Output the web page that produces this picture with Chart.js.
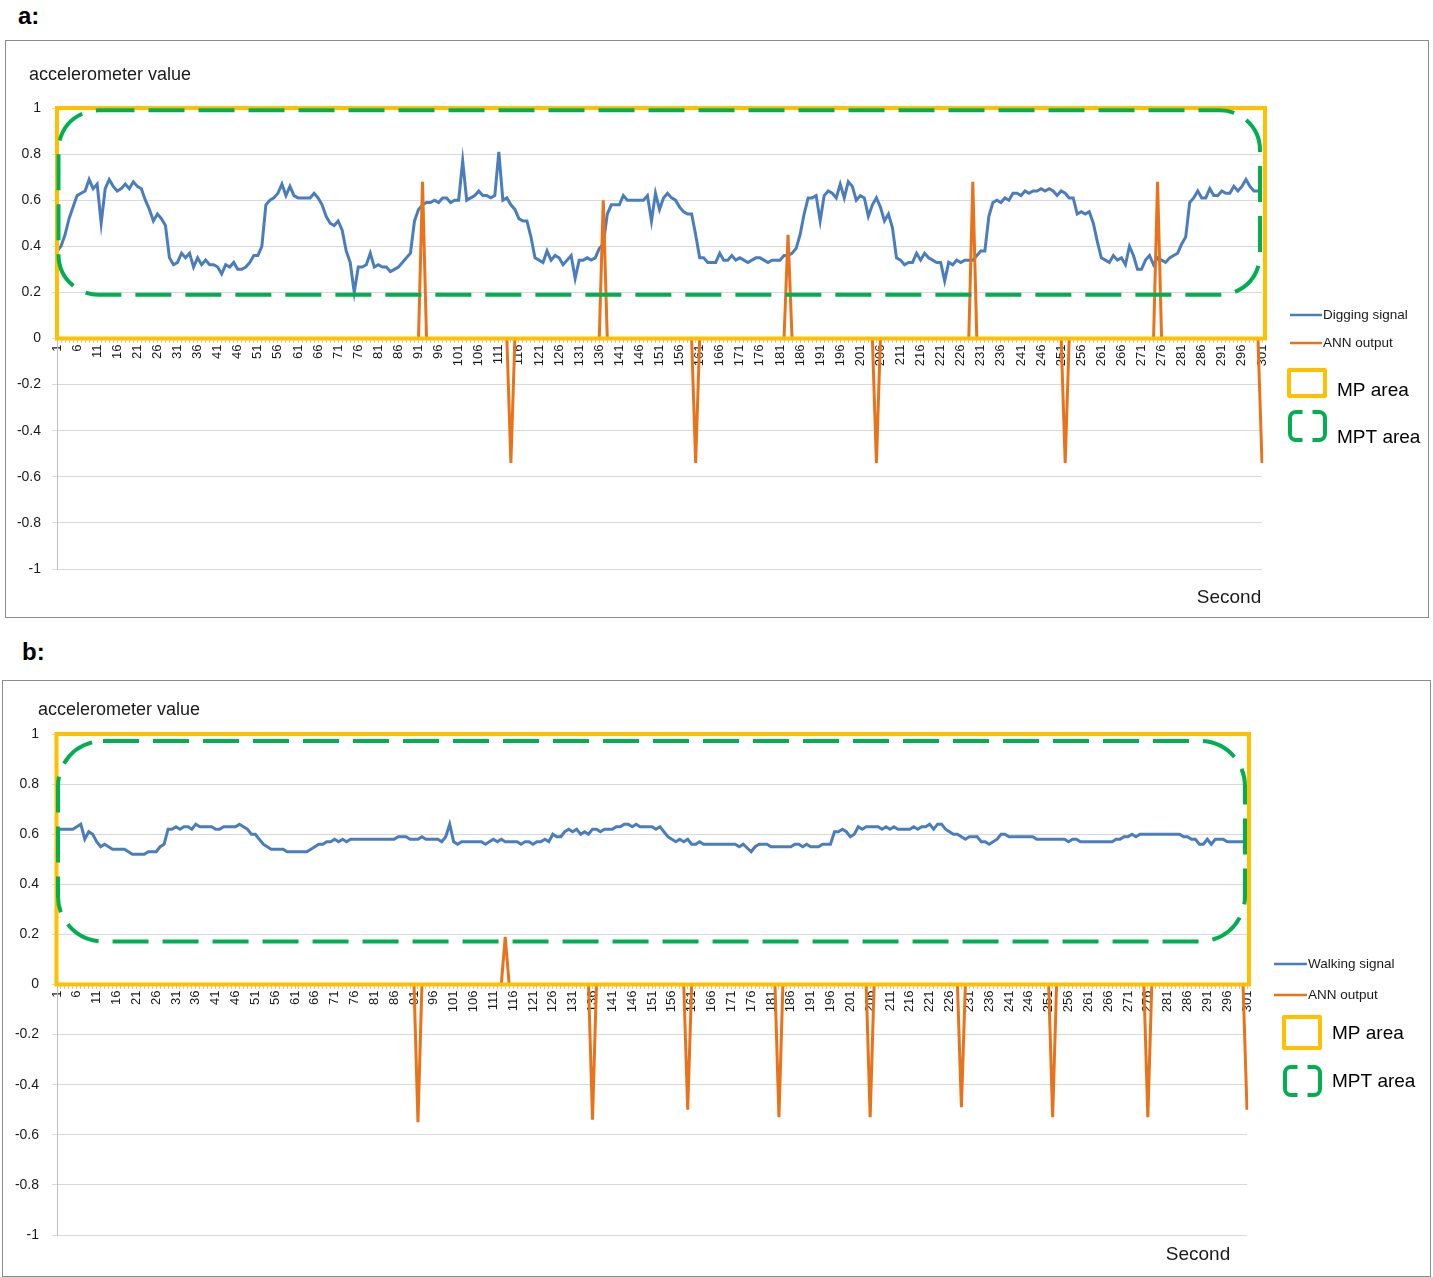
<!DOCTYPE html>
<html>
<head>
<meta charset="utf-8">
<script src="https://cdn.jsdelivr.net/npm/chart.js@4.4.0/dist/chart.umd.min.js"></script>
<style>
  body { margin: 0; background: #fff; font-family: 'Liberation Sans', Arial, sans-serif; }
  .tag { position: absolute; font-weight: bold; font-size: 24px; color: #000; }
  .panel { position: absolute; border: 1px solid #8c8c8c; box-sizing: border-box; background: #fff; }
  .inner { position: relative; width: 100%; height: 100%; }
</style>
</head>
<body>
<div class="tag" style="left:18px; top:2px;">a:</div>
<div class="panel" style="left:5px; top:40px; width:1424px; height:578px;">
  <div class="inner"><canvas id="chartA"></canvas></div>
</div>
<div class="tag" style="left:22px; top:638px;">b:</div>
<div class="panel" style="left:2px; top:680px; width:1429px; height:597px;">
  <div class="inner"><canvas id="chartB"></canvas></div>
</div>
<script>
// seconds 1..301 on the category axis
const seconds = Array.from({ length: 301 }, (_, i) => i + 1);

// a: digging signal
const diggingSignal = [
  0.38, 0.40, 0.45, 0.52, 0.57, 0.62, 0.63, 0.64, 0.69, 0.65,
  0.67, 0.50, 0.65, 0.69, 0.66, 0.64, 0.65, 0.67, 0.65, 0.68,
  0.66, 0.65, 0.60, 0.56, 0.51, 0.54, 0.52, 0.49, 0.35, 0.32,
  0.33, 0.37, 0.35, 0.37, 0.31, 0.35, 0.32, 0.34, 0.32, 0.32,
  0.31, 0.28, 0.32, 0.31, 0.33, 0.30, 0.30, 0.31, 0.33, 0.36,
  0.36, 0.40, 0.58, 0.60, 0.61, 0.63, 0.67, 0.62, 0.66, 0.62,
  0.61, 0.61, 0.61, 0.61, 0.63, 0.61, 0.58, 0.53, 0.50, 0.49,
  0.51, 0.47, 0.38, 0.33, 0.20, 0.31, 0.31, 0.32, 0.37, 0.31,
  0.32, 0.31, 0.31, 0.29, 0.30, 0.31, 0.33, 0.35, 0.37, 0.51,
  0.56, 0.58, 0.59, 0.59, 0.60, 0.59, 0.61, 0.61, 0.59, 0.60,
  0.60, 0.77, 0.60, 0.61, 0.62, 0.64, 0.62, 0.62, 0.61, 0.62,
  0.81, 0.60, 0.61, 0.58, 0.56, 0.52, 0.51, 0.51, 0.44, 0.35,
  0.34, 0.33, 0.38, 0.34, 0.36, 0.35, 0.32, 0.34, 0.36, 0.26,
  0.34, 0.34, 0.35, 0.34, 0.35, 0.39, 0.41, 0.54, 0.58, 0.58,
  0.58, 0.62, 0.60, 0.60, 0.60, 0.60, 0.60, 0.62, 0.51, 0.63,
  0.56, 0.61, 0.63, 0.61, 0.60, 0.57, 0.55, 0.54, 0.54, 0.45,
  0.35, 0.35, 0.33, 0.33, 0.33, 0.37, 0.34, 0.34, 0.36, 0.34,
  0.35, 0.34, 0.33, 0.34, 0.35, 0.35, 0.34, 0.33, 0.34, 0.34,
  0.34, 0.36, 0.36, 0.37, 0.39, 0.45, 0.54, 0.61, 0.61, 0.62,
  0.51, 0.62, 0.64, 0.63, 0.61, 0.67, 0.61, 0.68, 0.66, 0.60,
  0.62, 0.61, 0.53, 0.58, 0.61, 0.57, 0.51, 0.54, 0.48, 0.35,
  0.34, 0.32, 0.33, 0.33, 0.37, 0.34, 0.37, 0.35, 0.34, 0.33,
  0.33, 0.25, 0.33, 0.32, 0.34, 0.33, 0.34, 0.34, 0.34, 0.36,
  0.38, 0.38, 0.53, 0.59, 0.60, 0.59, 0.61, 0.60, 0.63, 0.63,
  0.62, 0.64, 0.63, 0.64, 0.64, 0.65, 0.64, 0.65, 0.64, 0.62,
  0.64, 0.63, 0.61, 0.61, 0.54, 0.55, 0.54, 0.55, 0.50, 0.42,
  0.35, 0.34, 0.33, 0.36, 0.34, 0.35, 0.32, 0.40, 0.36, 0.30,
  0.30, 0.34, 0.36, 0.32, 0.35, 0.34, 0.33, 0.35, 0.36, 0.37,
  0.41, 0.44, 0.59, 0.61, 0.64, 0.61, 0.61, 0.65, 0.62, 0.62,
  0.64, 0.63, 0.63, 0.66, 0.64, 0.66, 0.69, 0.66, 0.64, 0.64,
  0.64
];

// b: walking signal
const walkingSignal = [
  0.62, 0.62, 0.62, 0.62, 0.62, 0.63, 0.64, 0.58, 0.61, 0.60,
  0.57, 0.55, 0.56, 0.55, 0.54, 0.54, 0.54, 0.54, 0.53, 0.52,
  0.52, 0.52, 0.52, 0.53, 0.53, 0.53, 0.55, 0.56, 0.62, 0.62,
  0.63, 0.62, 0.63, 0.63, 0.62, 0.64, 0.63, 0.63, 0.63, 0.63,
  0.62, 0.62, 0.63, 0.63, 0.63, 0.63, 0.64, 0.63, 0.62, 0.60,
  0.60, 0.58, 0.56, 0.55, 0.54, 0.54, 0.54, 0.54, 0.53, 0.53,
  0.53, 0.53, 0.53, 0.53, 0.54, 0.55, 0.56, 0.56, 0.57, 0.57,
  0.58, 0.57, 0.58, 0.57, 0.58, 0.58, 0.58, 0.58, 0.58, 0.58,
  0.58, 0.58, 0.58, 0.58, 0.58, 0.58, 0.59, 0.59, 0.59, 0.58,
  0.58, 0.58, 0.59, 0.58, 0.58, 0.58, 0.58, 0.57, 0.59, 0.64,
  0.57, 0.56, 0.57, 0.57, 0.57, 0.57, 0.57, 0.57, 0.56, 0.57,
  0.58, 0.57, 0.58, 0.57, 0.57, 0.57, 0.57, 0.56, 0.57, 0.57,
  0.56, 0.57, 0.57, 0.58, 0.57, 0.60, 0.59, 0.59, 0.61, 0.62,
  0.61, 0.62, 0.60, 0.61, 0.60, 0.62, 0.62, 0.61, 0.62, 0.62,
  0.62, 0.63, 0.63, 0.64, 0.64, 0.63, 0.64, 0.63, 0.63, 0.63,
  0.63, 0.62, 0.63, 0.61, 0.59, 0.58, 0.57, 0.58, 0.57, 0.58,
  0.56, 0.56, 0.57, 0.56, 0.56, 0.56, 0.56, 0.56, 0.56, 0.56,
  0.56, 0.56, 0.55, 0.56, 0.545, 0.53, 0.55, 0.56, 0.56, 0.56,
  0.55, 0.55, 0.55, 0.55, 0.55, 0.55, 0.56, 0.56, 0.55, 0.56,
  0.55, 0.55, 0.55, 0.56, 0.56, 0.56, 0.61, 0.61, 0.62, 0.61,
  0.59, 0.60, 0.63, 0.62, 0.63, 0.63, 0.63, 0.63, 0.62, 0.63,
  0.62, 0.63, 0.62, 0.62, 0.62, 0.62, 0.63, 0.62, 0.63, 0.63,
  0.64, 0.62, 0.64, 0.64, 0.62, 0.61, 0.60, 0.60, 0.59, 0.58,
  0.59, 0.59, 0.59, 0.57, 0.57, 0.56, 0.57, 0.58, 0.60, 0.60,
  0.59, 0.59, 0.59, 0.59, 0.59, 0.59, 0.59, 0.58, 0.58, 0.58,
  0.58, 0.58, 0.58, 0.58, 0.58, 0.57, 0.58, 0.58, 0.57, 0.57,
  0.57, 0.57, 0.57, 0.57, 0.57, 0.57, 0.57, 0.58, 0.58, 0.59,
  0.59, 0.60, 0.59, 0.60, 0.60, 0.60, 0.60, 0.60, 0.60, 0.60,
  0.60, 0.60, 0.60, 0.60, 0.59, 0.59, 0.58, 0.58, 0.56, 0.56,
  0.58, 0.56, 0.58, 0.58, 0.58, 0.57, 0.57, 0.57, 0.57, 0.57,
  0.58
];

// ANN output is 0 except at these seconds
const annSecondsA = [92, 114, 137, 160, 183, 205, 229, 252, 275, 301];
const annValuesA = [0.68, -0.54, 0.60, -0.54, 0.45, -0.54, 0.68, -0.54, 0.68, -0.54];
const annSecondsB = [92, 114, 136, 160, 183, 206, 229, 252, 276, 301];
const annValuesB = [-0.55, 0.19, -0.54, -0.50, -0.53, -0.53, -0.49, -0.53, -0.53, -0.50];

const BLUE = '#4A7DBE';
const ORANGE = '#E8731A';
const GOLD = '#FFC000';
const GREEN = '#00B050';
const TEXT = '#1a1a1a';

Chart.defaults.font.family = "'Liberation Sans', Arial, sans-serif";

function annSeries(secs, vals) {
  const out = seconds.map(() => 0);
  secs.forEach((s, k) => { out[s - 1] = vals[k]; });
  return out;
}

function roundRectPath(ctx, l, t, r, b, rad) {
  ctx.beginPath();
  ctx.moveTo(l + rad, t);
  ctx.lineTo(r - rad, t);
  ctx.arcTo(r, t, r, t + rad, rad);
  ctx.lineTo(r, b - rad);
  ctx.arcTo(r, b, r - rad, b, rad);
  ctx.lineTo(l + rad, b);
  ctx.arcTo(l, b, l, b - rad, rad);
  ctx.lineTo(l, t + rad);
  ctx.arcTo(l, t, l + rad, t, rad);
  ctx.closePath();
}

// MP / MPT boxes, titles and the side legend
const areasPlugin = {
  id: 'areas',
  afterDatasetsDraw(chart, args, o) {
    const ctx = chart.ctx;
    const area = chart.chartArea;
    const y = chart.scales.y;
    ctx.save();
    // MP area
    ctx.strokeStyle = GOLD;
    ctx.lineWidth = 4;
    ctx.setLineDash([]);
    ctx.strokeRect(area.left + o.mpL, y.getPixelForValue(1), area.right + o.mpR - area.left - o.mpL,
      y.getPixelForValue(0) - y.getPixelForValue(1));
    // MPT area
    ctx.strokeStyle = GREEN;
    ctx.lineWidth = 4;
    ctx.setLineDash([36, 14]);
    roundRectPath(ctx, area.left + o.mptL, y.getPixelForValue(o.mptTop), area.right + o.mptR,
      y.getPixelForValue(o.mptBottom), o.radius);
    ctx.stroke();
    ctx.restore();
  },
  afterDraw(chart, args, o) {
    const ctx = chart.ctx;
    ctx.save();
    ctx.fillStyle = TEXT;
    ctx.textBaseline = 'middle';
    ctx.font = "18px 'Liberation Sans', Arial, sans-serif";
    ctx.textAlign = 'left';
    ctx.fillText('accelerometer value', o.yTitle[0], o.yTitle[1]);
    ctx.font = "19px 'Liberation Sans', Arial, sans-serif";
    ctx.textAlign = 'center';
    ctx.fillText('Second', o.xTitle[0], o.xTitle[1]);

    const L = o.legend;
    ctx.textAlign = 'left';
    ctx.font = "13.5px 'Liberation Sans', Arial, sans-serif";
    [[BLUE, o.signalLabel, L.row1], [ORANGE, 'ANN output', L.row2]].forEach(([c, txt, yy]) => {
      ctx.strokeStyle = c;
      ctx.lineWidth = 2.5;
      ctx.beginPath();
      ctx.moveTo(L.lineX[0], yy);
      ctx.lineTo(L.lineX[1], yy);
      ctx.stroke();
      ctx.fillText(txt, L.lineX[1] + 1, yy);
    });
    // MP icon
    ctx.strokeStyle = GOLD;
    ctx.lineWidth = 4;
    ctx.lineJoin = 'round';
    const m = L.mp;
    ctx.strokeRect(m[0], m[1], m[2] - m[0], m[3] - m[1]);
    // MPT icon: two rounded brackets
    ctx.strokeStyle = GREEN;
    const g = L.mpt;
    const cx = (g[0] + g[2]) / 2, gap = 5, rad = 6;
    ctx.beginPath();
    ctx.moveTo(cx - gap, g[1]);
    ctx.lineTo(g[0] + rad, g[1]);
    ctx.arcTo(g[0], g[1], g[0], g[1] + rad, rad);
    ctx.lineTo(g[0], g[3] - rad);
    ctx.arcTo(g[0], g[3], g[0] + rad, g[3], rad);
    ctx.lineTo(cx - gap, g[3]);
    ctx.moveTo(cx + gap, g[1]);
    ctx.lineTo(g[2] - rad, g[1]);
    ctx.arcTo(g[2], g[1], g[2], g[1] + rad, rad);
    ctx.lineTo(g[2], g[3] - rad);
    ctx.arcTo(g[2], g[3], g[2] - rad, g[3], rad);
    ctx.lineTo(cx + gap, g[3]);
    ctx.stroke();
    ctx.font = "19px 'Liberation Sans', Arial, sans-serif";
    ctx.fillStyle = '#000';
    ctx.fillText('MP area', L.mpText[0], L.mpText[1]);
    ctx.fillText('MPT area', L.mptText[0], L.mptText[1]);
    ctx.restore();
  }
};

function buildChart(id, cfg) {
  return new Chart(document.getElementById(id), {
    type: 'line',
    data: {
      labels: seconds,
      datasets: [
        { label: 'ANN output', data: cfg.ann, borderColor: ORANGE, borderWidth: 3,
          pointRadius: 0, tension: 0, order: 0 },
        { label: cfg.areas.signalLabel, data: cfg.signal, borderColor: BLUE, borderWidth: 3,
          pointRadius: 0, tension: 0, order: 1 }
      ]
    },
    options: {
      responsive: true,
      maintainAspectRatio: false,
      animation: false,
      events: [],
      layout: { padding: cfg.padding },
      plugins: {
        legend: { display: false },
        tooltip: { enabled: false },
        areas: cfg.areas
      },
      scales: {
        x: {
          position: { y: 0 },
          offset: false,
          grid: { drawOnChartArea: false, drawTicks: true, tickLength: 4, color: '#c8c8c8' },
          border: { display: false },
          ticks: {
            autoSkip: false, maxRotation: 90, minRotation: 90, padding: 2,
            color: TEXT, font: { size: 13 },
            callback: (v, i) => (i % 5 === 0 ? String(seconds[i]) : '')
          },
          afterFit: s => { s.height = 0; s.paddingLeft = 0; s.paddingRight = 0; }
        },
        y: {
          min: -1, max: 1,
          grid: { color: '#d9d9d9', tickLength: 5 },
          border: { color: '#bfbfbf' },
          ticks: {
            stepSize: 0.2, padding: cfg.yPad, color: TEXT, font: { size: 14 },
            callback: v => String(Math.round(v * 10) / 10)
          },
          afterFit: s => { s.width = cfg.yWidth; s.paddingTop = 0; s.paddingBottom = 0; }
        }
      }
    },
    plugins: [areasPlugin]
  });
}

buildChart('chartA', {
  signal: diggingSignal,
  ann: annSeries(annSecondsA, annValuesA),
  yWidth: 51, yPad: 11,
  padding: { left: 0, right: 166, top: 67, bottom: 48 },
  areas: {
    signalLabel: 'Digging signal',
    mpL: 0, mpR: 3, mptL: 1.5, mptR: -2, mptTop: 0.99, mptBottom: 0.19, radius: 40,
    yTitle: [23, 34], xTitle: [1223, 557],
    legend: {
      lineX: [1284, 1316], row1: 274, row2: 302,
      mp: [1283, 329, 1319, 355], mpText: [1331, 350],
      mpt: [1284, 371, 1319, 399], mptText: [1331, 397]
    }
  }
});

buildChart('chartB', {
  signal: walkingSignal,
  ann: annSeries(annSecondsB, annValuesB),
  yWidth: 54, yPad: 13,
  padding: { left: 0, right: 183, top: 53, bottom: 41 },
  areas: {
    signalLabel: 'Walking signal',
    mpL: -0.5, mpR: 2, mptL: 1, mptR: -2, mptTop: 0.972, mptBottom: 0.172, radius: 45,
    yTitle: [35, 29], xTitle: [1195, 574],
    legend: {
      lineX: [1271, 1304], row1: 283, row2: 314,
      mp: [1281, 336, 1317, 367], mpText: [1329, 353],
      mpt: [1282, 386, 1317, 414], mptText: [1329, 401]
    }
  }
});
</script>
</body>
</html>
